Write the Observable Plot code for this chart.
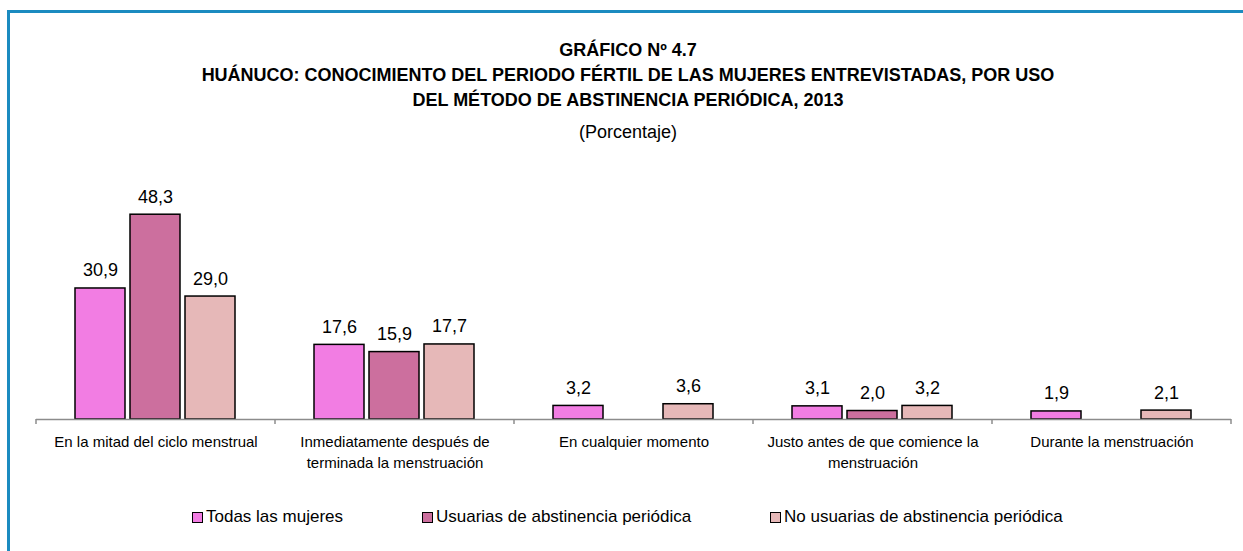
<!DOCTYPE html>
<html>
<head>
<meta charset="utf-8">
<script src="https://cdn.jsdelivr.net/npm/d3@7"></script>
<script src="https://cdn.jsdelivr.net/npm/@observablehq/plot@0.6"></script>
<style>
  html, body { margin: 0; padding: 0; background: #fff; }
  #wrap { position: relative; width: 1243px; height: 551px; overflow: hidden; font-family: "Liberation Sans", Arial, sans-serif; color: #000; }
  #frame { position: absolute; left: 7px; top: 10px; width: 1300px; height: 600px; border-top: 3px solid #1b8bc0; border-left: 3px solid #1b8bc0; }
  #title { position: absolute; left: 0; width: 1256px; top: 38px; text-align: center; font-weight: bold; font-size: 18px; line-height: 25px; }
  #subtitle { position: absolute; left: 0; width: 1256px; top: 120px; text-align: center; font-size: 18px; line-height: 24px; }
  #chart { position: absolute; left: 0; top: 150px; }
  .leg { position: absolute; top: 507px; font-size: 17px; line-height: 20px; white-space: nowrap; display: flex; align-items: center; }
  .sw { display: inline-block; width: 9px; height: 9px; border: 1.5px solid #000; margin-right: 3px; }
</style>
</head>
<body>
<div id="wrap">
  <div id="frame"></div>
  <div id="title">GRÁFICO Nº 4.7<br>HUÁNUCO: CONOCIMIENTO DEL PERIODO FÉRTIL DE LAS MUJERES ENTREVISTADAS, POR USO<br>DEL MÉTODO DE ABSTINENCIA PERIÓDICA, 2013</div>
  <div id="subtitle">(Porcentaje)</div>
  <div id="chart"></div>
  <div id="legend"></div>
</div>
<script>
const categories = [
  "En la mitad del ciclo menstrual",
  "Inmediatamente después de terminada la menstruación",
  "En cualquier momento",
  "Justo antes de que comience la menstruación",
  "Durante la menstruación"
];
const categoryLabels = [
  "En la mitad del ciclo menstrual",
  "Inmediatamente después de\nterminada la menstruación",
  "En cualquier momento",
  "Justo antes de que comience la\nmenstruación",
  "Durante la menstruación"
];
const series = ["Todas las mujeres", "Usuarias de abstinencia periódica", "No usuarias de abstinencia periódica"];
const todas = [30.9, 17.6, 3.2, 3.1, 1.9];
const usuarias = [48.3, 15.9, null, 2.0, null];
const noUsuarias = [29.0, 17.7, 3.6, 3.2, 2.1];
const colors = ["#f27de3", "#cc6f9e", "#e6b8b8"];

const seriesValues = [todas, usuarias, noUsuarias];
const rows = categories.flatMap((c, i) => series.map((s, j) => ({category: c, series: s, value: seriesValues[j][i]})))
  .filter(d => d.value != null);
const fmt = v => v.toFixed(1).replace(".", ",");

const chart = Plot.plot({
  width: 1243,
  height: 329,
  marginTop: 57,
  marginBottom: 60,
  marginLeft: 35,
  marginRight: 11,
  style: {fontFamily: '"Liberation Sans", Arial, sans-serif', background: "transparent", color: "#000"},
  fx: {domain: categories, padding: 0, axis: null},
  x: {domain: series, paddingInner: 0.089, paddingOuter: 0.682, axis: null},
  y: {domain: [0, 50], axis: null},
  color: {domain: series, range: colors},
  marks: [
    Plot.barY(rows, {fx: "category", x: "series", y: "value", fill: "series", stroke: "#000", strokeWidth: 1.5}),
    Plot.ruleY([0], {stroke: "#8c8c8c", strokeWidth: 1.5}),
    Plot.text(rows, {fx: "category", x: "series", y: "value", text: d => fmt(d.value), lineAnchor: "bottom", dy: -12, fontSize: 18, fill: "#000"}),
    Plot.text(categories, {fx: d => d, text: (d, i) => categoryLabels[i], frameAnchor: "bottom", lineAnchor: "top", dy: 13, fontSize: 15, lineHeight: 1.4, fill: "#000"})
  ]
});
document.getElementById("chart").appendChild(chart);

// category boundary tick marks, from Plot's own fx and y scales
const fxs = chart.scale("fx");
const ys = chart.scale("y");
const y0 = ys.apply(0);
const bw = fxs.bandwidth;
const bounds = categories.map(c => fxs.apply(c)).concat([fxs.apply(categories[categories.length - 1]) + bw]);
const g = d3.select(chart).append("g").attr("stroke", "#8c8c8c").attr("stroke-width", 1.5);
bounds.forEach(x => g.append("line").attr("x1", x).attr("x2", x).attr("y1", y0).attr("y2", y0 + 5));

// legend
const legendLefts = [192, 422, 770];
const leg = document.getElementById("legend");
series.forEach((s, i) => {
  const item = document.createElement("div");
  item.className = "leg";
  item.style.left = legendLefts[i] + "px";
  const sw = document.createElement("span");
  sw.className = "sw";
  sw.style.background = colors[i];
  item.appendChild(sw);
  item.appendChild(document.createTextNode(s));
  leg.appendChild(item);
});
</script>
</body>
</html>
